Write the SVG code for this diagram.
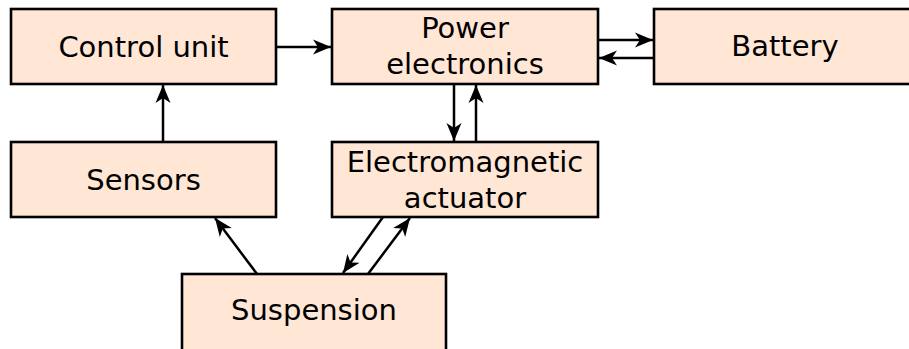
<svg xmlns="http://www.w3.org/2000/svg" width="909" height="349" viewBox="0 0 909 349">
<style>
.box{fill:#ffe6d5;stroke:#000;stroke-width:2.6}
.t{font-family:"DejaVu Sans",sans-serif;font-size:29px;fill:#000;text-anchor:middle}
.c{stroke:#000;stroke-width:2.5;fill:none;marker-end:url(#ah)}
</style>
<defs>
<marker id="ah" markerUnits="userSpaceOnUse" markerWidth="22" markerHeight="20" viewBox="-20 -10 22 20" refX="0" refY="0" orient="auto">
<path d="M0,0 L-18,-7.5 L-13,0 L-18,7.5 Z" fill="#000"/>
</marker>
</defs>
<rect width="909" height="349" fill="#fff"/>
<g id="control-unit"><rect class="box" x="11" y="9" width="265" height="75"/><text class="t" x="143.5" y="57">Control unit</text></g>
<g id="power-electronics"><rect class="box" x="332" y="9" width="266" height="75"/><text class="t" x="465" y="38">Power</text><text class="t" x="465" y="74">electronics</text></g>
<g id="battery"><rect class="box" x="654" y="9" width="262" height="75"/><text class="t" x="785" y="56">Battery</text></g>
<g id="sensors"><rect class="box" x="11" y="142" width="265" height="75"/><text class="t" x="143.5" y="190">Sensors</text></g>
<g id="actuator"><rect class="box" x="332" y="142" width="266" height="75"/><text class="t" x="465" y="172">Electromagnetic</text><text class="t" x="465" y="208">actuator</text></g>
<g id="suspension"><rect class="box" x="182" y="274" width="264" height="80"/><text class="t" x="314" y="320">Suspension</text></g>
<g id="connectors">
<path class="c" d="M276,47 L331,47"/>
<path class="c" d="M598,40 L653,40"/>
<path class="c" d="M654,58 L599,58"/>
<path class="c" d="M163,142 L163,85"/>
<path class="c" d="M454,84 L454,141"/>
<path class="c" d="M476,142 L476,85"/>
<path class="c" d="M257,274 L215,218"/>
<path class="c" d="M383,217 L343,273"/>
<path class="c" d="M368,274 L410,218"/>
</g>
</svg>
